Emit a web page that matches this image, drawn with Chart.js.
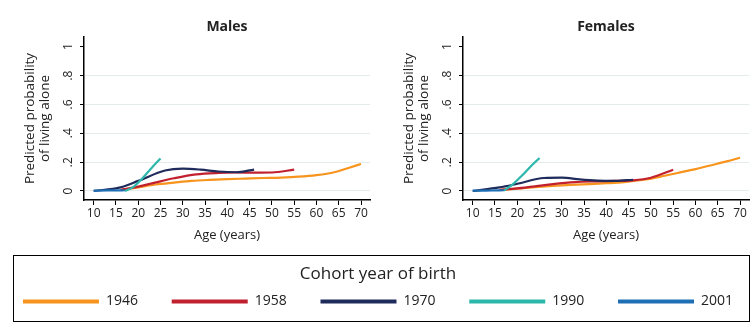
<!DOCTYPE html>
<html>
<head>
<meta charset="utf-8">
<script src="https://cdn.jsdelivr.net/npm/chart.js@4/dist/chart.umd.min.js"></script>
<style>
  html, body { margin: 0; padding: 0; background: #fff; }
  body { width: 756px; height: 326px; overflow: hidden; position: relative; }
  .abs { position: absolute; }
  #box { left: 13px; top: 255px; width: 737px; height: 67px; border: 1px solid #000; box-sizing: border-box; }
</style>
</head>
<body>
<div class="abs" style="left:0;top:0;width:378px;height:250px"><canvas id="males" width="378" height="250"></canvas></div>
<div class="abs" style="left:379px;top:0;width:378px;height:250px"><canvas id="females" width="378" height="250"></canvas></div>
<div id="box" class="abs"></div>
<div class="abs" style="left:-42px;top:255px;width:840px;height:140px"><canvas id="legend" width="840" height="140"></canvas></div>
<script>
// ---- data ----
const cohorts = ['1946', '1958', '1970', '1990', '2001'];
const cohortColors = ['#F7941D', '#C1202F', '#1F2B5B', '#2BB7AA', '#1F6FB5'];

const ages1946 = [16, 20, 24, 28, 32, 36, 40, 44, 48, 52, 56, 60, 64, 67, 70];
const males1946 = [0.007, 0.025, 0.045, 0.058, 0.070, 0.077, 0.082, 0.086, 0.090, 0.093, 0.099, 0.110, 0.130, 0.158, 0.187];
const females1946 = [0.007, 0.017, 0.027, 0.035, 0.042, 0.048, 0.054, 0.062, 0.076, 0.098, 0.125, 0.152, 0.182, 0.205, 0.230];

const ages1958 = [16, 20, 24, 28, 33, 38, 42, 46, 50, 55];
const males1958 = [0.007, 0.030, 0.060, 0.088, 0.115, 0.125, 0.128, 0.127, 0.128, 0.148];
const females1958 = [0.007, 0.018, 0.032, 0.048, 0.062, 0.067, 0.070, 0.074, 0.092, 0.147];

const ages1970 = [10, 16, 20, 26, 30, 34, 38, 42, 46];
const males1970 = [0.000, 0.025, 0.070, 0.142, 0.155, 0.148, 0.135, 0.130, 0.148];
const females1970 = [0.000, 0.025, 0.050, 0.090, 0.092, 0.080, 0.072, 0.070, 0.078];

const ages1990 = [17, 19, 21, 23, 25];
const males1990 = [0.000, 0.030, 0.090, 0.160, 0.226];
const females1990 = [0.002, 0.046, 0.105, 0.170, 0.229];

const ages2001 = [10, 11, 13, 15, 17];
const males2001 = [0.002, 0.003, 0.004, 0.004, 0.005];
const females2001 = [0.002, 0.003, 0.003, 0.004, 0.005];

const xTickValues = [10, 15, 20, 25, 30, 35, 40, 45, 50, 55, 60, 65, 70];
const yTickValues = [0, 0.2, 0.4, 0.6, 0.8, 1];
const yTickLabels = ['0', '.2', '.4', '.6', '.8', '1'];

const panelTitles = ['Males', 'Females'];
const xAxisTitle = 'Age (years)';
const yAxisTitle = ['Predicted probability', 'of living alone'];
const legendTitle = 'Cohort year of birth';

// ---- helpers ----
const FONT = "'Open Sans', sans-serif";
const TXT = '#222222';
const agesByCohort = [ages1946, ages1958, ages1970, ages1990, ages2001];
const malesByCohort = [males1946, males1958, males1970, males1990, males2001];
const femalesByCohort = [females1946, females1958, females1970, females1990, females2001];

function pts(ages, vals) { return ages.map((a, i) => ({ x: a, y: vals[i] })); }

function makeDatasets(valsByCohort) {
  const ds = cohorts.map((c, i) => ({
    label: c,
    data: pts(agesByCohort[i], valsByCohort[i]),
    borderColor: cohortColors[i],
    backgroundColor: cohortColors[i],
    borderWidth: 2.2,
    pointRadius: 0,
    fill: false,
    cubicInterpolationMode: 'monotone'
  }));
  return ds.reverse(); // later cohorts drawn on top
}

function panelOptions(title) {
  return {
    responsive: false,
    animation: false,
    devicePixelRatio: 1,
    layout: { padding: { left: 0, right: 8, top: 0, bottom: 0 } },
    plugins: {
      legend: { display: false },
      tooltip: { enabled: false },
      title: {
        display: true, text: title, fullSize: false, color: TXT,
        font: { family: FONT, size: 14, weight: 'bold' },
        padding: { top: 18.3, bottom: 1.9 }
      }
    },
    scales: {
      x: {
        type: 'linear', min: 7.82, max: 72.02,
        afterBuildTicks: (s) => { s.ticks = xTickValues.map(v => ({ value: v })); },
        afterFit: (s) => { s.height = 50; },
        grid: { drawOnChartArea: false, tickLength: 5, tickColor: '#000', tickWidth: 1 },
        border: { color: '#000', width: 1.5 },
        ticks: { padding: 1, color: TXT, font: { family: FONT, size: 12 }, maxRotation: 0, autoSkip: false },
        title: { display: true, text: xAxisTitle, color: TXT, font: { family: FONT, size: 13 }, padding: { top: 0, bottom: 7 } }
      },
      y: {
        type: 'linear', min: -0.0624, max: 1.067,
        afterBuildTicks: (s) => { s.ticks = yTickValues.map(v => ({ value: v })); },
        afterFit: (s) => { s.width = 84; },
        grid: {
          color: (c) => (c.tick && c.tick.value === 1) ? 'rgba(0,0,0,0)' : '#E3EBED',
          lineWidth: 1, tickLength: 4, tickColor: '#000', tickWidth: 1
        },
        border: { color: '#000', width: 1.5 },
        ticks: {
          minRotation: 90, maxRotation: 90, crossAlign: 'center', padding: 6,
          color: TXT, font: { family: FONT, size: 12 },
          callback: (v) => yTickLabels[yTickValues.indexOf(v)]
        },
        title: {
          display: true, text: yAxisTitle, color: TXT,
          font: { family: FONT, size: 13.5, lineHeight: 1.1 },
          padding: { top: 22.5, bottom: 0 }
        }
      }
    }
  };
}

new Chart(document.getElementById('males'), {
  type: 'line',
  data: { datasets: makeDatasets(malesByCohort) },
  options: panelOptions(panelTitles[0])
});
new Chart(document.getElementById('females'), {
  type: 'line',
  data: { datasets: makeDatasets(femalesByCohort) },
  options: panelOptions(panelTitles[1])
});

// legend-only chart
new Chart(document.getElementById('legend'), {
  type: 'line',
  data: {
    datasets: cohorts.map((c, i) => ({
      label: c, data: [], borderColor: cohortColors[i], backgroundColor: cohortColors[i], borderWidth: 0
    }))
  },
  options: {
    responsive: false, animation: false, devicePixelRatio: 1,
    layout: { padding: 0 },
    scales: { x: { display: false }, y: { display: false } },
    plugins: {
      tooltip: { enabled: false },
      legend: {
        display: true, position: 'top', align: 'center',
        title: { display: true, text: legendTitle, color: TXT, font: { family: FONT, size: 17 }, padding: { top: 11, bottom: -25.65 } },
        labels: {
          color: TXT, font: { family: FONT, size: 14 },
          boxWidth: 76, boxHeight: 4, padding: 33.75,
          generateLabels: (chart) => chart.data.datasets.map((d, i) => ({
            text: d.label, fillStyle: d.backgroundColor, strokeStyle: d.backgroundColor,
            lineWidth: 0, hidden: false, datasetIndex: i, fontColor: TXT
          }))
        }
      }
    }
  }
});
</script>
</body>
</html>
